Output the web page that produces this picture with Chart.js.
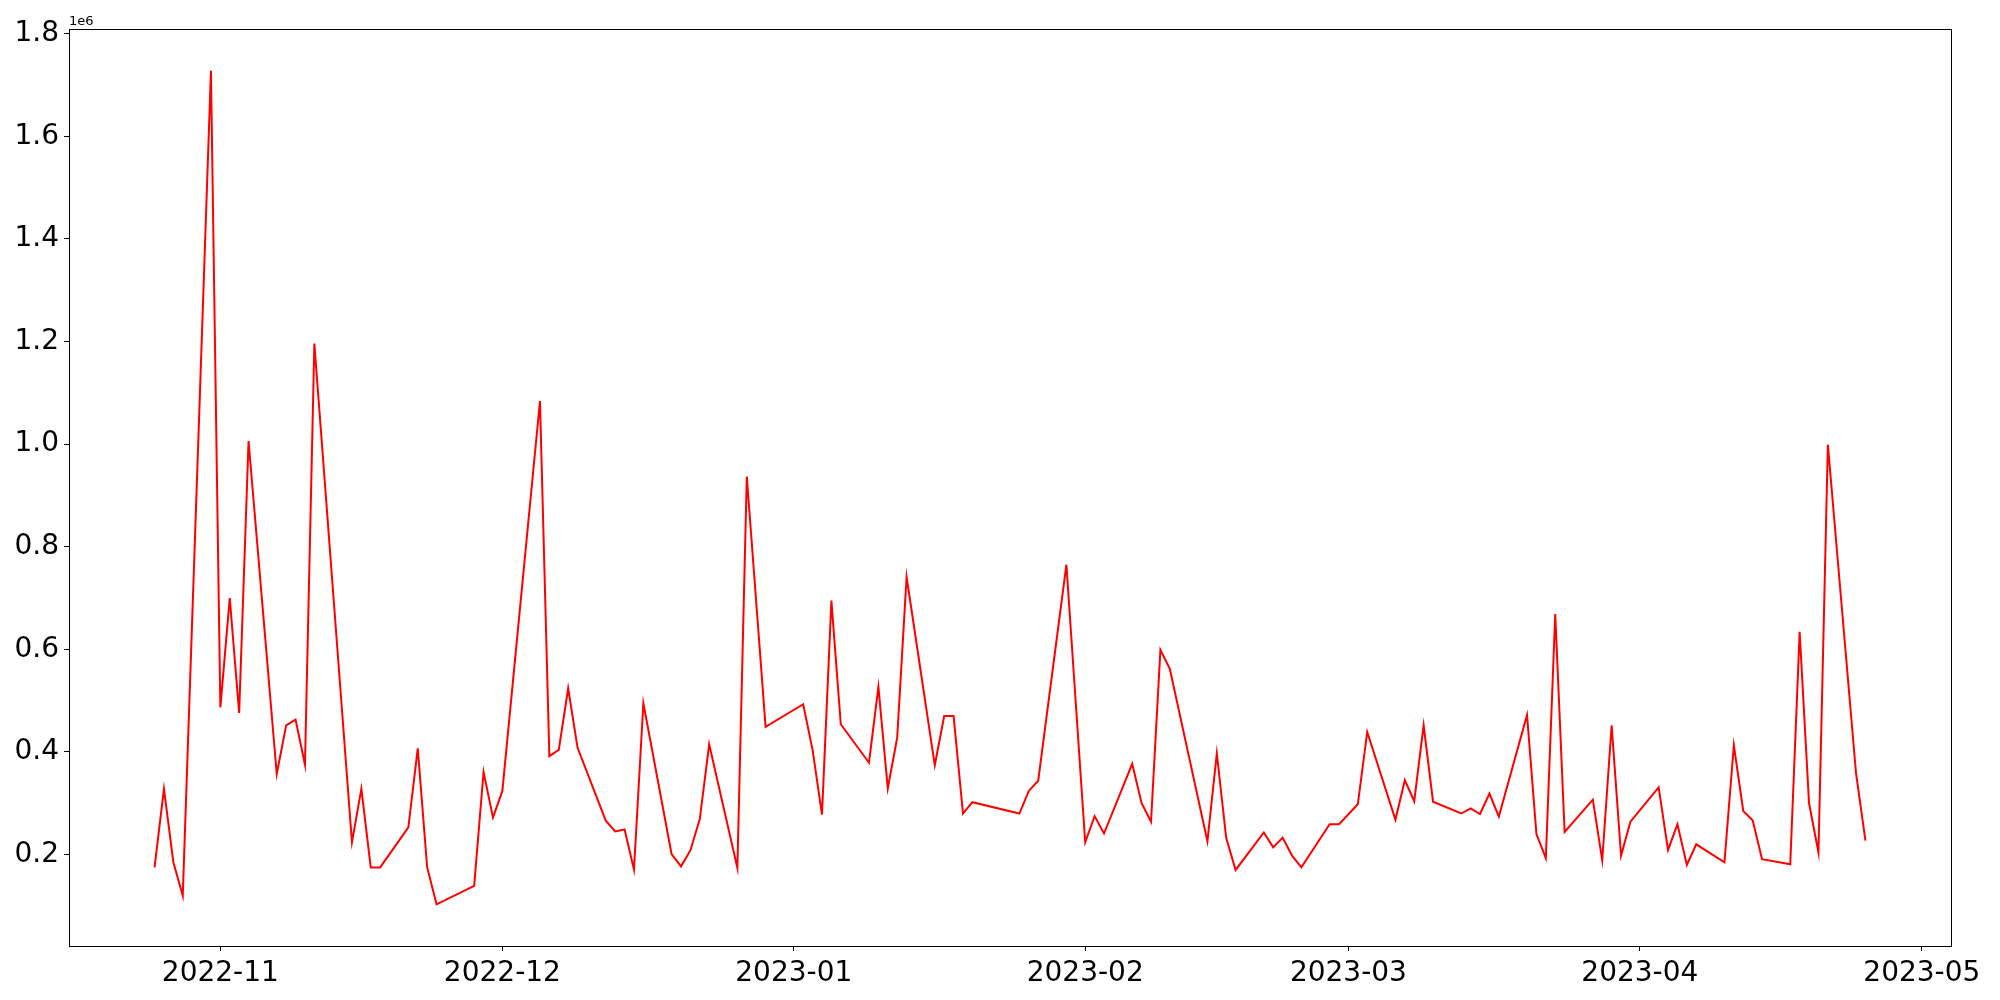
<!DOCTYPE html>
<html>
<head>
<meta charset="utf-8">
<script src="https://cdn.jsdelivr.net/npm/chart.js@4/dist/chart.umd.min.js"></script>
<style>
  html, body { margin: 0; padding: 0; background: #fff; }
  #chart { display: block; }
</style>
</head>
<body>
<canvas id="chart" width="2000" height="1000"></canvas>
<script>
// daily values (in units of 1e6), weekdays only
const dates = [
  "2022-10-25", "2022-10-26", "2022-10-27", "2022-10-28", "2022-10-31",
  "2022-11-01", "2022-11-02", "2022-11-03", "2022-11-04",
  "2022-11-07", "2022-11-08", "2022-11-09", "2022-11-10", "2022-11-11",
  "2022-11-15", "2022-11-16", "2022-11-17", "2022-11-18",
  "2022-11-21", "2022-11-22", "2022-11-23", "2022-11-24",
  "2022-11-28", "2022-11-29", "2022-11-30", "2022-12-01",
  "2022-12-05", "2022-12-06", "2022-12-07", "2022-12-08", "2022-12-09",
  "2022-12-12", "2022-12-13", "2022-12-14", "2022-12-15", "2022-12-16",
  "2022-12-19", "2022-12-20", "2022-12-21", "2022-12-22", "2022-12-23",
  "2022-12-26", "2022-12-27", "2022-12-29",
  "2023-01-02", "2023-01-03", "2023-01-04", "2023-01-05", "2023-01-06",
  "2023-01-09", "2023-01-10", "2023-01-11", "2023-01-12", "2023-01-13",
  "2023-01-16", "2023-01-17", "2023-01-18", "2023-01-19", "2023-01-20",
  "2023-01-25", "2023-01-26", "2023-01-27",
  "2023-01-30", "2023-02-01", "2023-02-02", "2023-02-03",
  "2023-02-06", "2023-02-07", "2023-02-08", "2023-02-09", "2023-02-10",
  "2023-02-14", "2023-02-15", "2023-02-16", "2023-02-17",
  "2023-02-20", "2023-02-21", "2023-02-22", "2023-02-23", "2023-02-24",
  "2023-02-27", "2023-02-28", "2023-03-02", "2023-03-03",
  "2023-03-06", "2023-03-07", "2023-03-08", "2023-03-09", "2023-03-10",
  "2023-03-13", "2023-03-14", "2023-03-15", "2023-03-16", "2023-03-17",
  "2023-03-20", "2023-03-21", "2023-03-22", "2023-03-23", "2023-03-24",
  "2023-03-27", "2023-03-28", "2023-03-29", "2023-03-30", "2023-03-31",
  "2023-04-03", "2023-04-04", "2023-04-05", "2023-04-06", "2023-04-07",
  "2023-04-10", "2023-04-11", "2023-04-12", "2023-04-13", "2023-04-14",
  "2023-04-17", "2023-04-18", "2023-04-19", "2023-04-20", "2023-04-21",
  "2023-04-24", "2023-04-25"
];

const values = [
  0.175, 0.328, 0.185, 0.120, 1.728,
  0.487, 0.700, 0.476, 1.006,
  0.357, 0.452, 0.463, 0.375, 1.196,
  0.224, 0.328, 0.175, 0.175,
  0.253, 0.407, 0.175, 0.103,
  0.139, 0.361, 0.272, 0.324,
  1.084, 0.392, 0.404, 0.524, 0.408,
  0.266, 0.245, 0.249, 0.171, 0.495,
  0.201, 0.177, 0.208, 0.269, 0.415,
  0.174, 0.937, 0.449,
  0.493, 0.404, 0.278, 0.695, 0.454,
  0.379, 0.527, 0.329, 0.428, 0.741,
  0.374, 0.470, 0.470, 0.280, 0.302,
  0.280, 0.324, 0.344,
  0.765, 0.224, 0.275, 0.241,
  0.377, 0.300, 0.264, 0.599, 0.562,
  0.226, 0.397, 0.232, 0.170,
  0.243, 0.214, 0.233, 0.198, 0.175,
  0.259, 0.259, 0.298, 0.439,
  0.268, 0.345, 0.304, 0.452, 0.303,
  0.280, 0.290, 0.279, 0.319, 0.274,
  0.472, 0.240, 0.193, 0.669, 0.244,
  0.307, 0.189, 0.452, 0.198, 0.264,
  0.331, 0.209, 0.259, 0.180, 0.220,
  0.185, 0.413, 0.285, 0.267, 0.191,
  0.181, 0.634, 0.300, 0.204, 0.999,
  0.358, 0.227
];

const monthTicks = ["2022-11-01", "2022-12-01", "2023-01-01", "2023-02-01",
                    "2023-03-01", "2023-04-01", "2023-05-01"];
const yTicks = [0.2, 0.4, 0.6, 0.8, 1.0, 1.2, 1.4, 1.6, 1.8];

const DAY = 86400000;
const toDay = s => Date.parse(s + "T00:00:00Z") / DAY;

const xs = dates.map(toDay);
const points = xs.map((x, i) => ({ x: x, y: values[i] }));

// matplotlib-style 5% margins
const xMin = Math.min(...xs), xMax = Math.max(...xs);
const yMin = Math.min(...values), yMax = Math.max(...values);
const xPad = (xMax - xMin) * 0.05, yPad = (yMax - yMin) * 0.05;

const tickFont = { family: "'DejaVu Sans', sans-serif", size: 28 };

const frame = {
  id: 'frame',
  afterDraw(chart) {
    const { ctx, chartArea: a } = chart;
    ctx.save();
    ctx.strokeStyle = '#000';
    ctx.lineWidth = 1;
    ctx.strokeRect(Math.round(a.left) + 0.5, Math.round(a.top) + 0.5,
                   Math.round(a.right - a.left), Math.round(a.bottom - a.top));
    ctx.fillStyle = '#000';
    ctx.font = "13px 'DejaVu Sans', sans-serif";
    ctx.textAlign = 'left';
    ctx.textBaseline = 'alphabetic';
    ctx.fillText('1e6', a.left, a.top - 4);
    ctx.restore();
  }
};

new Chart(document.getElementById('chart').getContext('2d'), {
  type: 'line',
  data: {
    datasets: [{
      data: points,
      borderColor: '#ff0000',
      borderWidth: 2,
      pointRadius: 0,
      tension: 0,
      fill: false
    }]
  },
  options: {
    responsive: false,
    animation: false,
    layout: { padding: { left: 0, right: 49, top: 29, bottom: 0 } },
    plugins: { legend: { display: false }, tooltip: { enabled: false } },
    scales: {
      x: {
        type: 'linear',
        min: xMin - xPad,
        max: xMax + xPad,
        afterBuildTicks: s => { s.ticks = monthTicks.map(m => ({ value: toDay(m) })); },
        afterFit: s => { s.height = 54; },
        ticks: {
          font: tickFont,
          color: '#000',
          padding: 6,
          maxRotation: 0,
          autoSkip: false,
          callback: v => new Date(v * DAY).toISOString().slice(0, 7)
        },
        grid: { drawOnChartArea: false, drawTicks: true, tickLength: 5, color: '#000' },
        border: { display: true, color: '#000', width: 1 }
      },
      y: {
        min: yMin - yPad,
        max: yMax + yPad,
        afterBuildTicks: s => { s.ticks = yTicks.map(v => ({ value: v })); },
        afterFit: s => { s.width = 69; },
        ticks: {
          font: tickFont,
          color: '#000',
          padding: 5,
          callback: v => v.toFixed(1)
        },
        grid: { drawOnChartArea: false, drawTicks: true, tickLength: 5, color: '#000' },
        border: { display: true, color: '#000', width: 1 }
      }
    }
  },
  plugins: [frame]
});
</script>
</body>
</html>
